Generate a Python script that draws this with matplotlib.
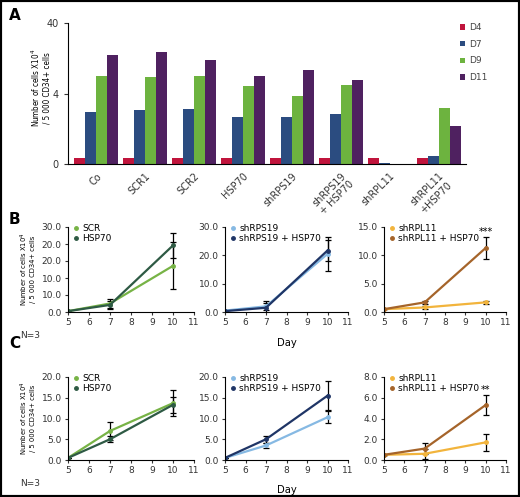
import numpy as np
import matplotlib
matplotlib.use("Agg")
import matplotlib.pyplot as plt
from matplotlib import font_manager
from matplotlib.patches import Rectangle

# ---- panel A data (log scale, bottom tick "0" sits at 0.4)
groups = ["Co", "SCR1", "SCR2", "HSP70", "shRPS19", "shRPS19\n+ HSP70", "shRPL11", "shRPL11\n+HSP70"]
d4 = [0.49, 0.49, 0.49, 0.49, 0.49, 0.49, 0.49, 0.49]
d7 = [2.17, 2.37, 2.42, 1.88, 1.86, 2.08, 0.41, 0.52]
d9 = [7.1, 6.9, 7.2, 5.15, 3.7, 5.3, 0.0, 2.5]
d11 = [13.9, 15.3, 11.8, 7.06, 8.7, 6.3, 0.0, 1.39]
day_names = ["D4", "D7", "D9", "D11"]
bar_colors = ["#c0143c", "#2b4c80", "#6db33f", "#4f2160"]

# ---- panels B and C data
days = [5, 7, 10]
scr_b = [0.3, 3.0, 16.3]
scr_b_err = [0, 1.5, 8.3]
hsp_b = [0.3, 2.5, 23.5]
hsp_b_err = [0, 1.5, 4.4]
rps_b = [0.5, 2.0, 20.5]
rps_b_err = [0, 1.2, 6.0]
rps_hsp_b = [0.3, 1.5, 21.7]
rps_hsp_b_err = [0, 2.5, 3.7]
rpl_b = [0.5, 0.8, 1.7]
rpl_b_err = [0, 0.2, 0.3]
rpl_hsp_b = [0.5, 1.7, 11.3]
rpl_hsp_b_err = [0, 0.2, 2.0]

scr_c = [0.5, 7.0, 13.7]
scr_c_err = [0, 2.2, 3.2]
hsp_c = [0.5, 5.0, 13.3]
hsp_c_err = [0, 0.7, 2.0]
rps_c = [0.5, 3.5, 10.3]
rps_c_err = [0, 0.5, 1.5]
rps_hsp_c = [0.5, 5.0, 15.5]
rps_hsp_c_err = [0, 0.8, 3.5]
rpl_c = [0.5, 0.6, 1.7]
rpl_c_err = [0, 0.5, 0.8]
rpl_hsp_c = [0.5, 1.1, 5.3]
rpl_hsp_c_err = [0, 0.5, 1.0]

W, H = 520, 497
fig = plt.figure(figsize=(W / 100, H / 100), dpi=100)
fig.patch.set_facecolor("white")

def px_axes(x0, y0, x1, y1):
    return fig.add_axes([x0 / W, 1 - y1 / H, (x1 - x0) / W, (y1 - y0) / H])

# narrow font for axis titles if one is around
installed = {f.name for f in font_manager.fontManager.ttflist}
if "Liberation Sans Narrow" in installed:
    cond = dict(family="Liberation Sans Narrow")
else:
    cond = dict(family="DejaVu Sans", stretch="condensed")

ylab = r"Number of cells X10$^4$" + "\n/ 5 000 CD34+ cells"

# ---------------- panel A
ax = px_axes(68, 23, 466, 164)
x = np.arange(len(groups))
bw = 0.225
for i, (vals, c, nm) in enumerate(zip([d4, d7, d9, d11], bar_colors, day_names)):
    ax.bar(x + (i - 1.5) * bw, vals, bw, color=c, label=nm)
ax.set_yscale("log")
ax.set_ylim(0.4, 40)
ax.set_xlim(-0.58, 7.56)
ax.set_yticks([0.4, 4, 40])
ax.set_yticklabels(["0", "4", "40"])
ax.yaxis.set_minor_locator(plt.NullLocator())
ax.set_xticks(x)
ax.set_xticklabels(groups, rotation=45, ha="right", rotation_mode="anchor",
                   multialignment="center", fontsize=7, color="#333333")
ax.tick_params(axis="x", length=0, pad=5)
ax.tick_params(axis="y", labelsize=7, length=3, colors="#333333", direction="out")
for s in ["top", "right"]:
    ax.spines[s].set_visible(False)
ax.text(-0.07, 0.54, ylab, transform=ax.transAxes, rotation=90, ha="center",
        va="center", fontsize=5.8, linespacing=1.05, **cond)
ax.legend(loc="upper left", bbox_to_anchor=(452 / W, 1 - 15 / H),
          bbox_transform=fig.transFigure, frameon=False, fontsize=6.5,
          labelcolor="#444444", handlelength=0.55, handleheight=0.55,
          handletextpad=0.5, labelspacing=0.85)

# ---------------- panels B and C
def line_panel(box, s1, e1, s2, e2, names, cols, ylim, ticks, ticklabels, star=None):
    a = px_axes(*box)
    for v, e, c, nm in [(s1, e1, cols[0], names[0]), (s2, e2, cols[1], names[1])]:
        a.errorbar(days, v, yerr=e, color=c, ecolor="black", elinewidth=0.9,
                   capsize=2, capthick=0.9, lw=1.6, marker="o", ms=2.5, label=nm)
    a.set_xlim(5, 11)
    a.set_ylim(*ylim)
    a.set_xticks(range(5, 12))
    a.set_yticks(ticks)
    a.set_yticklabels(ticklabels)
    a.tick_params(labelsize=6.5, length=2.5, colors="#333333", direction="out", pad=2)
    for s in ["top", "right"]:
        a.spines[s].set_visible(False)
    hs = [plt.Line2D([], [], ls="none", marker="o", ms=2.5, color=c) for c in cols]
    a.legend(hs, names, loc="upper left", bbox_to_anchor=(0.0, 1.1), frameon=False,
             fontsize=6.5, handlelength=0.6, handletextpad=0.4, labelspacing=0.1,
             borderaxespad=0.2)
    if star:
        a.text(10, star[0], star[1], ha="center", va="bottom", fontsize=7)
    return a

g_cols = ["#77b346", "#2e5a44"]
b_cols = ["#86b9e3", "#1f3566"]
o_cols = ["#f2b43c", "#a5642a"]

rows = [
    (227, 312, [(scr_b, scr_b_err, hsp_b, hsp_b_err), (rps_b, rps_b_err, rps_hsp_b, rps_hsp_b_err),
                (rpl_b, rpl_b_err, rpl_hsp_b, rpl_hsp_b_err)],
     [((0, 30), [0, 6, 12, 18, 24, 30], ["0.0", "10.0", "10.0", "20.0", "20.0", "30.0"]),
      ((0, 30), [0, 10, 20, 30], ["0.0", "10.0", "20.0", "30.0"]),
      ((0, 15), [0, 5, 10, 15], ["0.0", "5.0", "10.0", "15.0"])],
     (13.2, "***")),
    (377, 460, [(scr_c, scr_c_err, hsp_c, hsp_c_err), (rps_c, rps_c_err, rps_hsp_c, rps_hsp_c_err),
                (rpl_c, rpl_c_err, rpl_hsp_c, rpl_hsp_c_err)],
     [((0, 20), [0, 5, 10, 15, 20], ["0.0", "5.0", "10.0", "15.0", "20.0"]),
      ((0, 20), [0, 5, 10, 15, 20], ["0.0", "5.0", "10.0", "15.0", "20.0"]),
      ((0, 8), [0, 2, 4, 6, 8], ["0.0", "2.0", "4.0", "6.0", "8.0"])],
     (6.3, "**")),
]
name_sets = [["SCR", "HSP70"], ["shRPS19", "shRPS19 + HSP70"], ["shRPL11", "shRPL11 + HSP70"]]
col_sets = [g_cols, b_cols, o_cols]
xs = [(68, 194), (225, 348), (384, 506)]

for top, bot, datas, scales, star in rows:
    for j in range(3):
        s1, e1, s2, e2 = datas[j]
        lim, tk, tl = scales[j]
        a = line_panel((xs[j][0], top, xs[j][1], bot), s1, e1, s2, e2, name_sets[j],
                       col_sets[j], lim, tk, tl, star if j == 2 else None)
        if j == 0:
            a.text(-0.32, 0.5, ylab, transform=a.transAxes, rotation=90, ha="center",
                   va="center", fontsize=5.4, linespacing=1.05, **cond)
        if j == 1:
            a.text(0.5, -0.3, "Day", transform=a.transAxes, ha="center", va="top",
                   fontsize=8, **cond)
    fig.text(20 / W, 1 - (bot + 24) / H, "N=3", fontsize=6.5, color="#333333", va="center")

# panel letters
for lab, yy in [("A", 15), ("B", 220), ("C", 343)]:
    fig.text(9 / W, 1 - yy / H, lab, fontsize=11, fontweight="bold", va="center")

fig.patches.append(Rectangle((0, 0), 1, 1, transform=fig.transFigure, fill=False,
                             edgecolor="black", linewidth=3))

fig.savefig("out.png", dpi=100)
